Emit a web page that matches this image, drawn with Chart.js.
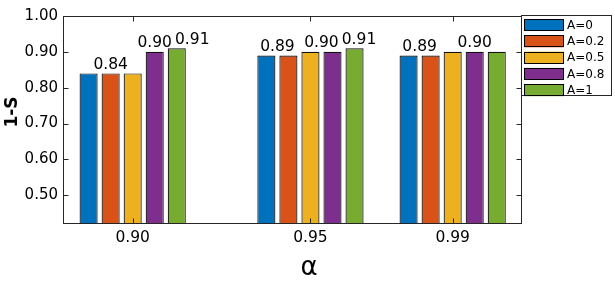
<!DOCTYPE html>
<html>
<head>
<meta charset="utf-8">
<script src="https://cdn.jsdelivr.net/npm/chart.js@4/dist/chart.umd.min.js"></script>
<style>
html, body { margin: 0; padding: 0; background: #fff; }
</style>
</head>
<body>
<canvas id="chart" width="615" height="282"></canvas>
<script>
// Data
const alphas = [0.90, 0.95, 0.99];
const seriesNames = ['A=0', 'A=0.2', 'A=0.5', 'A=0.8', 'A=1'];
const seriesColors = ['#0072BD', '#D95319', '#EDB120', '#7E2F8E', '#77AC30'];
const valsA0 = [0.84, 0.89, 0.89];
const valsA02 = [0.84, 0.89, 0.89];
const valsA05 = [0.84, 0.90, 0.90];
const valsA08 = [0.90, 0.90, 0.90];
const valsA1 = [0.91, 0.91, 0.90];
const yTicks = [0.50, 0.60, 0.70, 0.80, 0.90, 1.00];

const allVals = [valsA0, valsA02, valsA05, valsA08, valsA1];
const axisColor = '#262626';
const fontFamily = '"DejaVu Sans", sans-serif';

// frame + inward ticks + axis titles
const framePlugin = {
    id: 'frame',
    afterDraw(chart) {
        const ctx = chart.ctx;
        const a = chart.chartArea;
        const xs = chart.scales.x, ys = chart.scales.y;
        const L = Math.round(a.left) + 0.5, R = Math.round(a.right) - 0.5;
        const T = Math.round(a.top) + 0.5, B = Math.round(a.bottom) - 0.5;
        ctx.save();
        ctx.strokeStyle = axisColor;
        ctx.lineWidth = 1;
        ctx.strokeRect(L, T, R - L, B - T);
        ctx.beginPath();
        ys.ticks.forEach(t => {
            const y = Math.round(ys.getPixelForValue(t.value)) + 0.5;
            ctx.moveTo(L, y); ctx.lineTo(L + 5, y);
            ctx.moveTo(R, y); ctx.lineTo(R - 5, y);
        });
        xs.ticks.forEach(t => {
            const x = Math.round(xs.getPixelForValue(t.value)) + 0.5;
            ctx.moveTo(x, B); ctx.lineTo(x, B - 5);
            ctx.moveTo(x, T); ctx.lineTo(x, T + 5);
        });
        ctx.stroke();

        // axis titles
        ctx.fillStyle = '#000';
        ctx.textAlign = 'center';
        ctx.textBaseline = 'middle';
        ctx.font = '26px ' + fontFamily;
        ctx.fillText('\u03B1', 309, 268);
        ctx.translate(13, 112);
        ctx.rotate(-Math.PI / 2);
        ctx.font = 'bold 17px ' + fontFamily;
        ctx.fillText('1-S', 0, 0);
        ctx.restore();
    }
};

// value labels above runs of equal bars
const labelPlugin = {
    id: 'valueLabels',
    afterDatasetsDraw(chart) {
        const ctx = chart.ctx;
        ctx.save();
        ctx.font = '15.5px ' + fontFamily;
        ctx.fillStyle = '#000';
        ctx.textAlign = 'center';
        ctx.textBaseline = 'alphabetic';
        alphas.forEach((al, i) => {
            const bars = allVals.map((v, d) => chart.getDatasetMeta(d).data[i]);
            const labels = [];
            let start = 0;
            for (let d = 1; d <= allVals.length; d++) {
                if (d === allVals.length || allVals[d][i] !== allVals[start][i]) {
                    const run = bars.slice(start, d);
                    const cx = run.reduce((s, b) => s + b.x, 0) / run.length;
                    const top = Math.min(...run.map(b => b.y));
                    labels.push({ text: allVals[start][i].toFixed(2), x: cx, y: top });
                    start = d;
                }
            }
            for (let k = 1; k < labels.length; k++) {
                const w = ctx.measureText(labels[k].text).width;
                const minGap = w + 3;
                if (labels[k].x - labels[k - 1].x < minGap) labels[k].x = labels[k - 1].x + minGap;
            }
            labels.forEach(l => ctx.fillText(l.text, l.x, l.y - 4.5));
        });
        ctx.restore();
    }
};

// boxed legend outside the axes
const legendPlugin = {
    id: 'boxLegend',
    afterDraw(chart) {
        const ctx = chart.ctx;
        ctx.save();
        ctx.fillStyle = '#fff';
        ctx.fillRect(521, 15, 91, 81);
        ctx.strokeStyle = axisColor;
        ctx.lineWidth = 1;
        ctx.strokeRect(521.5, 15.5, 90, 80);
        ctx.font = '12px ' + fontFamily;
        ctx.textBaseline = 'middle';
        ctx.textAlign = 'left';
        seriesNames.forEach((n, k) => {
            const y = 19 + k * 16.3;
            ctx.fillStyle = seriesColors[k];
            ctx.fillRect(524, y, 40, 12);
            ctx.strokeStyle = '#000';
            ctx.strokeRect(524.5, Math.round(y) + 0.5, 39, 11);
            ctx.fillStyle = '#000';
            ctx.fillText(n, 567, y + 6.5);
        });
        ctx.restore();
    }
};

new Chart(document.getElementById('chart'), {
    type: 'bar',
    data: {
        datasets: seriesNames.map((n, k) => ({
            label: n,
            data: alphas.map((a, i) => ({ x: a, y: allVals[k][i] })),
            backgroundColor: seriesColors[k],
            borderColor: '#111',
            borderWidth: 1.2,
            categoryPercentage: 0.775,
            barPercentage: 0.82
        }))
    },
    options: {
        responsive: false,
        animation: false,
        layout: { padding: { top: 16, right: 93, left: 0, bottom: 0 } },
        plugins: { legend: { display: false }, tooltip: { enabled: false } },
        scales: {
            x: {
                type: 'linear',
                offset: false,
                min: 0.8804, max: 1.0095,
                afterBuildTicks: s => { s.ticks = alphas.map(v => ({ value: v })); },
                afterFit: s => { s.height = 58; },
                grid: { display: false, drawTicks: false, offset: false },
                border: { display: false },
                ticks: { color: '#000', font: { size: 15.5, family: fontFamily }, padding: 5, maxRotation: 0, autoSkip: false, callback: v => v.toFixed(2) }
            },
            y: {
                min: 0.42, max: 1.00,
                afterBuildTicks: s => { s.ticks = yTicks.map(v => ({ value: v })); },
                afterFit: s => { s.width = 63; },
                grid: { display: false, drawTicks: false },
                border: { display: false },
                ticks: { color: '#000', font: { size: 15, family: fontFamily }, padding: 5, callback: v => v.toFixed(2) }
            }
        }
    },
    plugins: [framePlugin, labelPlugin, legendPlugin]
});
</script>
</body>
</html>
